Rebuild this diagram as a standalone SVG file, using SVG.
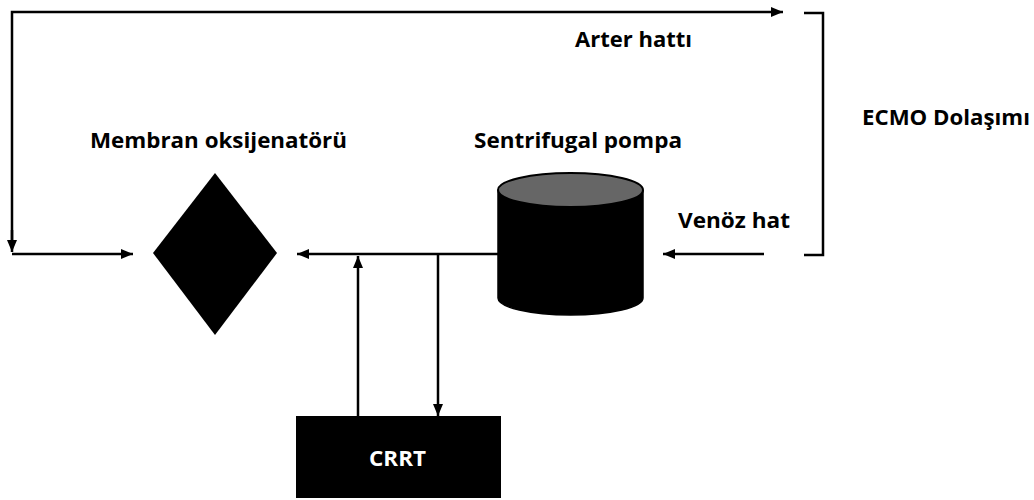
<svg xmlns="http://www.w3.org/2000/svg" width="1034" height="500" viewBox="0 0 1034 500">
<style>
.ln{fill:none;stroke:#000;stroke-width:2.5}
.lbl{font-family:"Open Sans","Liberation Sans",sans-serif;font-weight:bold;font-size:21px;fill:#000}
.shape{fill:#000}
</style>
<defs>
<marker id="ah" viewBox="0 0 12 10" refX="12" refY="5" markerWidth="12" markerHeight="10" markerUnits="userSpaceOnUse" orient="auto">
<path d="M0,0 L12,5 L0,10 z" fill="#000"/>
</marker>
</defs>
<rect width="1034" height="500" fill="#fff"/>
<g id="connectors">
<polyline class="ln" points="12,240 12,12 783,12" marker-end="url(#ah)"/>
<path class="ln" d="M12,230 L12,252" marker-end="url(#ah)"/>
<path class="ln" d="M12,254 L133,254" marker-end="url(#ah)"/>
<path class="ln" d="M499,254 L297,254" marker-end="url(#ah)"/>
<path class="ln" d="M358,416 L358,256" marker-end="url(#ah)"/>
<path class="ln" d="M438,255 L438,416" marker-end="url(#ah)"/>
<path class="ln" d="M764,254 L663,254" marker-end="url(#ah)"/>
<polyline class="ln" points="804,13 823,13 823,255 804,255"/>
</g>
<g id="oxygenator">
<polygon class="shape" points="215,173 277,253 215,335 153,253"/>
<text class="lbl" x="90" y="148" textLength="257" lengthAdjust="spacingAndGlyphs">Membran oksijenatörü</text>
</g>
<g id="pump">
<path d="M498,190 L498,298 A72.5,17 0 0 0 643,298 L643,190" fill="#000" stroke="#000" stroke-width="1.5"/>
<ellipse cx="570.5" cy="190" rx="72.5" ry="17" fill="#666" stroke="#000" stroke-width="2"/>
<text class="lbl" x="474" y="148" textLength="208" lengthAdjust="spacingAndGlyphs">Sentrifugal pompa</text>
</g>
<g id="crrt">
<rect class="shape" x="296" y="416" width="205" height="82"/>
<text class="lbl" x="369" y="466" textLength="57" lengthAdjust="spacingAndGlyphs" style="fill:#fff">CRRT</text>
</g>
<g id="arter-label">
<text class="lbl" x="575" y="47" textLength="117" lengthAdjust="spacingAndGlyphs">Arter hattı</text>
</g>
<g id="venoz-label">
<text class="lbl" x="678" y="228" textLength="112" lengthAdjust="spacingAndGlyphs">Venöz hat</text>
</g>
<g id="ecmo-label">
<text class="lbl" x="862" y="125" textLength="168" lengthAdjust="spacingAndGlyphs">ECMO Dolaşımı</text>
</g>
</svg>
